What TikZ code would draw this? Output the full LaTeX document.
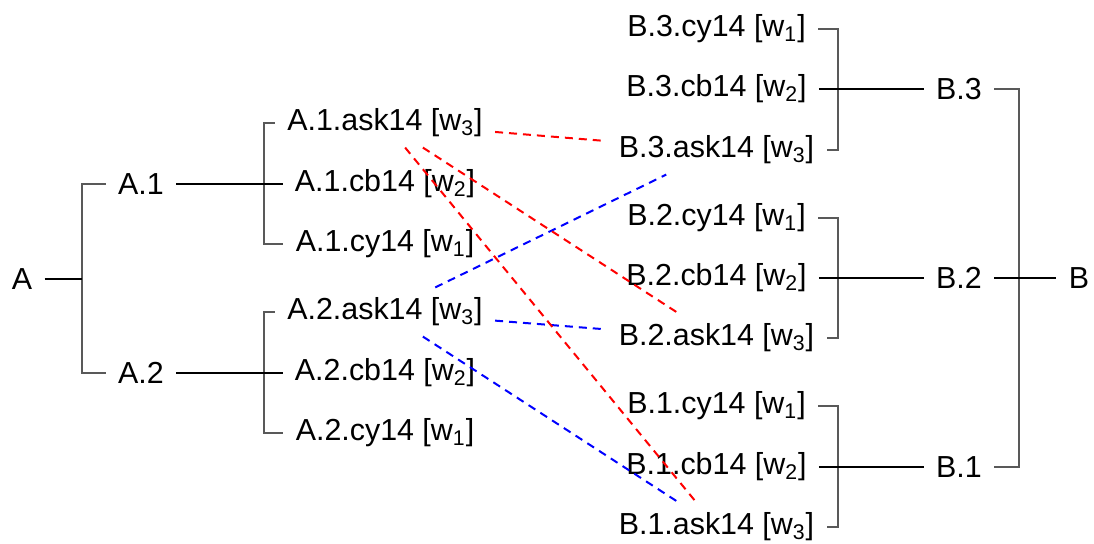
\documentclass[tikz,border=0pt]{standalone}
\usepackage{fontspec}
\setmainfont{Liberation Sans}
\begin{document}
\begin{tikzpicture}[x=0.5pt,y=-0.5pt,
  every node/.style={font=\fontsize{15.2}{18}\selectfont, inner xsep=6pt, inner ysep=5pt},
  straight/.style={line width=0.6pt, black},
  bracket/.style={line width=0.6pt, black!65},
  link/.style={dash pattern=on 4pt off 3pt, line width=1pt}]
  \useasboundingbox (0,0) rectangle (1094,543);
  % left tree
  \node (a) at (22,279) {A};
  \node (a1) at (141,184) {A.1};
  \node (a2) at (141,373) {A.2};
  \node (a1ask) at (385,123) {A.1.ask14 [w\textsubscript{3}]};
  \node (a1cb) at (385,184) {A.1.cb14 [w\textsubscript{2}]};
  \node (a1cy) at (385,244) {A.1.cy14 [w\textsubscript{1}]};
  \node (a2ask) at (385,312) {A.2.ask14 [w\textsubscript{3}]};
  \node (a2cb) at (385,373) {A.2.cb14 [w\textsubscript{2}]};
  \node (a2cy) at (385,433) {A.2.cy14 [w\textsubscript{1}]};
  \coordinate (ka) at (82,279);
  \coordinate (ka1) at (264,184);
  \coordinate (ka2) at (264,373);
  \draw[bracket] (a1.west) -| (ka) |- (a2.west);
  \draw[bracket] (a1ask.west) -| (ka1) |- (a1cy.west);
  \draw[bracket] (a2ask.west) -| (ka2) |- (a2cy.west);
  \draw[straight] (a) -- (ka);
  \draw[straight] (a1) -- (a1cb);
  \draw[straight] (a2) -- (a2cb);
  % right tree
  \node (b) at (1079,278) {B};
  \node (b3) at (959,89) {B.3};
  \node (b2) at (959,278) {B.2};
  \node (b1) at (959,467) {B.1};
  \node (b3cy) at (716.5,29) {B.3.cy14 [w\textsubscript{1}]};
  \node (b3cb) at (716.5,89) {B.3.cb14 [w\textsubscript{2}]};
  \node (b3ask) at (716.5,150) {B.3.ask14 [w\textsubscript{3}]};
  \node (b2cy) at (716.5,218) {B.2.cy14 [w\textsubscript{1}]};
  \node (b2cb) at (716.5,278) {B.2.cb14 [w\textsubscript{2}]};
  \node (b2ask) at (716.5,338) {B.2.ask14 [w\textsubscript{3}]};
  \node (b1cy) at (716.5,406) {B.1.cy14 [w\textsubscript{1}]};
  \node (b1cb) at (716.5,467) {B.1.cb14 [w\textsubscript{2}]};
  \node (b1ask) at (716.5,527) {B.1.ask14 [w\textsubscript{3}]};
  \coordinate (kb) at (1019,278);
  \coordinate (kb3) at (838,89);
  \coordinate (kb2) at (838,278);
  \coordinate (kb1) at (838,467);
  \draw[bracket] (b3.east) -| (kb) |- (b1.east);
  \draw[bracket] (b3cy.east) -| (kb3) |- (b3ask.east);
  \draw[bracket] (b2cy.east) -| (kb2) |- (b2ask.east);
  \draw[bracket] (b1cy.east) -| (kb1) |- (b1ask.east);
  \draw[straight] (b2) -- (b);
  \draw[straight] (b3cb) -- (b3);
  \draw[straight] (b2cb) -- (b2);
  \draw[straight] (b1cb) -- (b1);
  % matches
  \foreach \t in {b3ask,b2ask,b1ask} {
    \draw[link, red] (a1ask) -- (\t);
    \draw[link, blue] (a2ask) -- (\t);
  }
\end{tikzpicture}
\end{document}
